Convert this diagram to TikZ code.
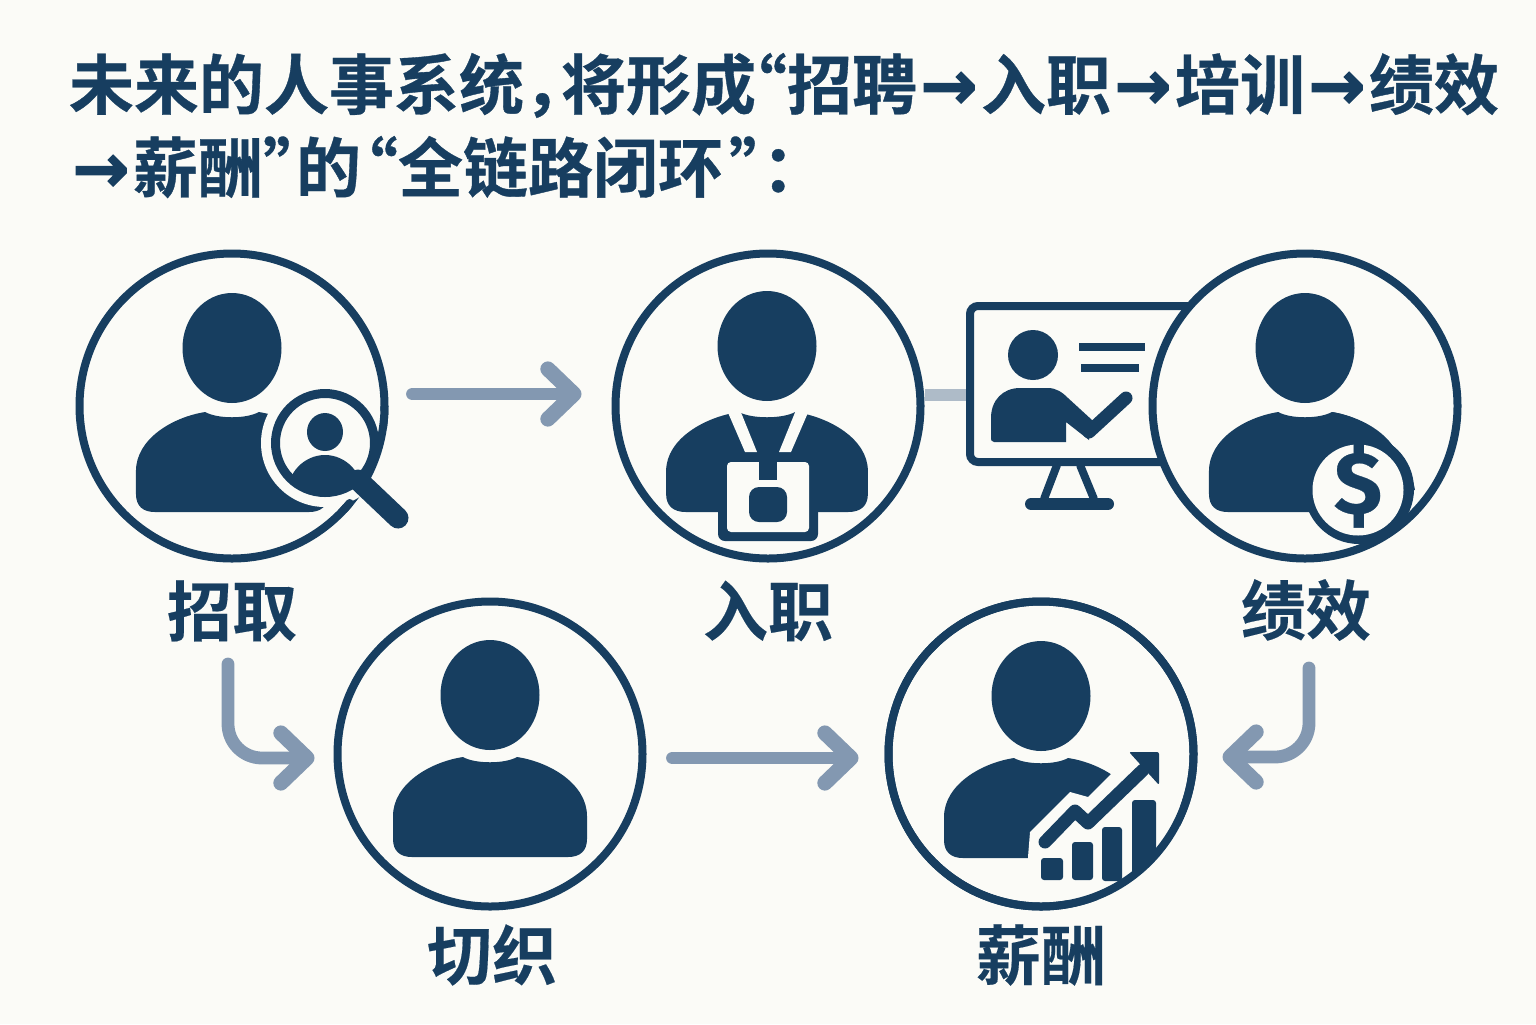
\documentclass[tikz,border=0pt]{standalone}
\usepackage{fontspec}
\usetikzlibrary{arrows.meta}
\setmainfont{Liberation Sans}
\newfontfamily\cjkb[FakeBold=0.25]{Noto Sans CJK SC Bold}
\newfontfamily\cjkt[FakeBold=0.55]{Noto Sans CJK SC Bold}
\newfontfamily\arrfont[FakeBold=2]{DejaVu Sans Bold}
\newfontfamily\dollarfont[FakeBold=0.3]{Fira Sans Bold}
\newcommand{\arr}{\makebox[32pt]{\arrfont\fontsize{34}{41.5}\selectfont →}}
\definecolor{navy}{HTML}{173E60}
\definecolor{bgc}{HTML}{FBFBF7}
\definecolor{connc}{HTML}{8398B1}
\definecolor{linkc}{HTML}{AEBBC8}
\tikzset{
  ringnode/.style={circle,draw=navy,fill=bgc,line width=4pt,minimum size=152.5pt,inner sep=0pt,outer sep=0pt},
  titletext/.style={text=navy,inner sep=0pt,outer sep=0pt,align=left,anchor=north west,font=\cjkt\fontsize{32.5}{41.5}\selectfont},
  labeltext/.style={text=navy,inner sep=0pt,outer sep=0pt,font=\cjkb\fontsize{32.5}{36}\selectfont},
  conn/.style={draw=connc,line width=6.4pt,line cap=round,line join=round,
    -{Straight Barb[length=13pt,width=25pt,line width=7.6pt,round]}},
  linkline/.style={draw=linkc,line width=6pt},
}
\newcommand{\personicon}[4]{% cx, head y, body origin y, xscale
  \fill[navy] (#1,#2) ellipse [x radius=49.5, y radius=55];
  \begin{scope}[shift={(#1,#3)},xscale=#4]
    \fill[navy] (-27,3) .. controls (-15,10) and (15,10) .. (27,3)
      .. controls (60,8) and (97,30) .. (97,62) -- (97,85)
      .. controls (97,97) and (90,103) .. (78,103) -- (-78,103)
      .. controls (-90,103) and (-97,97) .. (-97,85) -- (-97,62)
      .. controls (-97,30) and (-60,8) .. (-27,3) -- cycle;
  \end{scope}}
\begin{document}
\begin{tikzpicture}[x=0.5pt,y=-0.5pt]
\fill[bgc] (0,0) rectangle (1536,1024);
\useasboundingbox (0,0) rectangle (1536,1024);

% title
\node[titletext] (title) at (69,53) {未来的人事系统，\kern-14pt将形成\kern-17pt“招聘\arr 入职\arr 培训\arr 绩效\\\arr 薪酬”\kern-16pt的\kern-14pt“全链路闭环\kern3pt”\kern-16pt：};

% rings (third one comes after the monitor)
\node[ringnode] (n1) at (232,406) {};
\node[ringnode] (n2) at (768,406) {};
\node[ringnode] (n4) at (490,754) {};
\node[ringnode] (n5) at (1041,754) {};

% monitor
\node[draw=navy,line width=4pt,rounded corners=4pt,minimum width=115pt,minimum height=78pt,inner sep=0pt,outer sep=0pt] (mon) at (1085,384) {};
\draw[navy,line width=4pt] (1057,465) -- (1044,499);
\draw[navy,line width=4pt] (1080,465) -- (1094,499);
\draw[navy,line width=6pt,line cap=round] (1031,504) -- (1108,504);
\fill[navy] (1033,355) circle [radius=25];
\fill[navy] (1079,343) rectangle (1145,351);
\fill[navy] (1081,364) rectangle (1139,372);
\fill[navy] (994,442) .. controls (991,442) and (991,440) .. (991,436) -- (991,418)
  .. controls (991,400) and (1003,388) .. (1020,388) -- (1048,388)
  .. controls (1056,388) and (1062,392) .. (1068,398) -- (1092,420) -- (1089,440)
  -- (1066,422) -- (1066,442) -- cycle;
\draw[navy,line width=6.5pt,line cap=round] (1089,432) -- (1126,398);

\node[ringnode] (n3) at (1305,406) {};

% connectors
\draw[linkline] ([shift={(4,-11)}]n2.east) -- ([shift={(-4,11)}]mon.west);
\draw[conn] ([shift={(28,-12)}]n1.east) -- ([shift={(-34,-12)}]n2.west);
\draw[conn] ([shift={(30,4)}]n4.east) -- ([shift={(-30,4)}]n5.west);
\coordinate (from1) at (228,664);
\coordinate (from3) at (1309,668);
\draw[conn,rounded corners=17pt] (from1) |- ([shift={(-23,4)}]n4.west);
\draw[conn,rounded corners=17pt] (from3) |- ([shift={(29,3)}]n5.east);

% person 1 with magnifier
\personicon{232}{348}{409}{0.99}
\fill[bgc] (325,443) circle [radius=64];
\draw[navy,line width=4pt] plot[domain=0:30,samples=20] ({232+152.5*cos(\x)},{406+152.5*sin(\x)});
\draw[navy,line width=4pt,line cap=round] plot[domain=39.5:43,samples=5] ({232+152.5*cos(\x)},{406+152.5*sin(\x)});
\draw[navy,line width=4.5pt] (325,443) circle [radius=49.5];
\begin{scope}
  \clip (325,443) circle [radius=47];
  \fill[navy] (325,495) ellipse [x radius=38, y radius=40];
\end{scope}
\fill[navy] (325,432) ellipse [x radius=18, y radius=19];
\draw[navy,line width=10.5pt,line cap=round] (358,480) -- (398,518);

% person 2 with badge
\personicon{767}{346}{409}{1.04}
\fill[bgc] (726,408) -- (738,405) -- (757,452) -- (745,452) -- cycle;
\fill[bgc] (810,408) -- (798,405) -- (779,452) -- (791,452) -- cycle;
\fill[navy,rounded corners=3.5pt] (718,455) rectangle (818,541);
\fill[bgc,rounded corners=2pt] (727,462) rectangle (809,532);
\fill[navy] (759,462) rectangle (777,480);
\fill[navy,rounded corners=5pt] (749,487) rectangle (787,522);

% person 3 with dollar
\personicon{1305}{348}{409}{0.99}
\fill[navy] (1332,412) .. controls (1370,418) and (1408,450) .. (1415,490) -- (1358,490) -- cycle;
\fill[navy] (1359,489) circle [radius=55];
\fill[bgc] (1358,490) circle [radius=45.5];
\node[text=navy,inner sep=0pt,font=\dollarfont\fontsize{44}{44}\selectfont] (dollar) at (1358,484) {\$};

% person 4
\personicon{490}{695}{754}{1}

% person 5 with chart
\personicon{1041}{696}{755}{1}
\fill[bgc] (1028,857) -- (1030,832) -- (1070,792) -- (1088,797) -- (1112,773) -- (1140,760) -- (1180,800) -- (1180,900) -- (1028,900) -- cycle;
\draw[navy,line width=4pt] (n5) circle [radius=152.5];
\draw[navy,line width=6.5pt,line cap=round,line join=round] (1045,842) -- (1075,811) -- (1088,823) -- (1143,770);
\fill[navy,rounded corners=1pt] (1129,752) -- (1159,752) -- (1159,785) -- cycle;
\fill[navy,rounded corners=1.5pt] (1041,858) rectangle (1063,880);
\fill[navy,rounded corners=1.5pt] (1072,842) rectangle (1093,880);
\fill[navy,rounded corners=1.5pt] (1102,827) rectangle (1122,881);
\begin{scope}
  \clip (n5) circle [radius=153];
  \fill[navy,rounded corners=1.5pt] (1132,800) rectangle (1156,890);
\end{scope}

% labels
\node[labeltext] (l1) at (232,611) {招取};
\node[labeltext] (l2) at (768,611) {入职};
\node[labeltext] (l3) at (1306,610) {绩效};
\node[labeltext] (l4) at (492,955) {切织};
\node[labeltext] (l5) at (1041,955) {薪酬};
\end{tikzpicture}
\end{document}
